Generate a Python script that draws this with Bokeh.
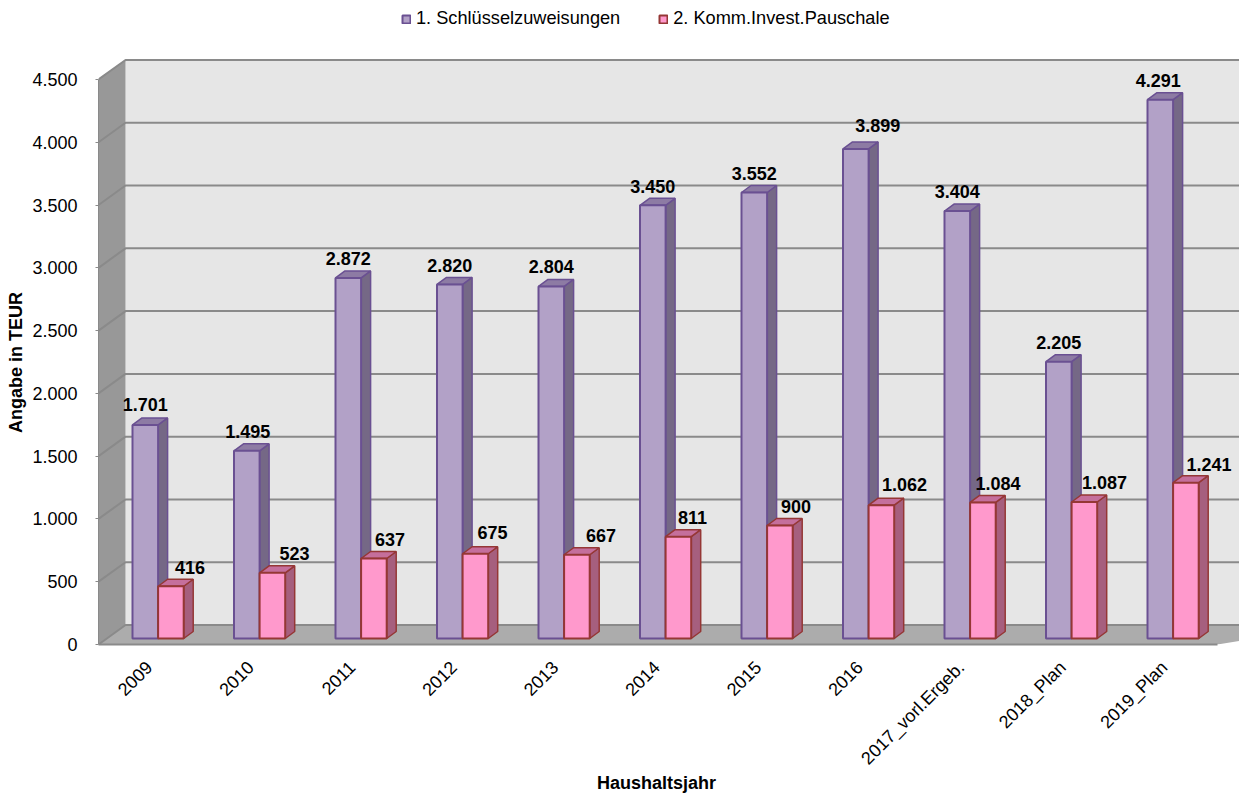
import math
from bokeh.plotting import figure
from bokeh.models import ColumnDataSource, Legend, LegendItem, FixedTicker
from bokeh.core.properties import value
from bokeh.embed import file_html
from bokeh.resources import INLINE

categories = ["2009", "2010", "2011", "2012", "2013", "2014", "2015", "2016",
              "2017_vorl.Ergeb.", "2018_Plan", "2019_Plan"]
schluessel = [1701, 1495, 2872, 2820, 2804, 3450, 3552, 3899, 3404, 2205, 4291]
pauschale = [416, 523, 637, 675, 667, 811, 900, 1062, 1084, 1087, 1241]
y_ticks = [0, 500, 1000, 1500, 2000, 2500, 3000, 3500, 4000, 4500]
y_tick_labels = ["0", "500", "1.000", "1.500", "2.000", "2.500", "3.000", "3.500", "4.000", "4.500"]
series_names = ["1. Schlüsselzuweisungen", "2. Komm.Invest.Pauschale"]
x_title = "Haushaltsjahr"
y_title = "Angabe in TEUR"

# label nudges in px, as the original places them by hand
dx1 = [0, 1, 0, 0, 0, 0, 0, 22, 0, 0, -2]
dx2 = [19, 22, 16, 17, 24, 14, 16, 23, 15, 20, 23]
dy1 = [-20, -19, -19, -19, -20, -19, -19, -23, -20, -19, -19]
dy2 = [-19, -19, -19, -21, -19, -19, -19, -21, -19, -20, -18]

FONT = "Liberation Sans"
W, H = 1239, 796
L, B = 98, 644                 # frame left / bottom inside the page
R = 1239
PX = 101.5                     # px per category
PY = 0.12556                   # px per value unit
CX = 148.8                     # px of the first category's centre
x0 = (L - CX) / PX             # data x of the frame's left edge
x1 = x0 + (R - L) / PX
y_top = B / PY
NBSP = "\u00a0"


def ux(px):
    return px / PX


def uy(px):
    return px / PY


p = figure(width=W, height=H, output_backend="svg", toolbar_location=None,
           x_range=(x0, x1), y_range=(0, y_top),
           min_border_left=L, min_border_right=W - R, min_border_top=0, min_border_bottom=H - B,
           outline_line_color=None, background_fill_color="white", border_fill_color="white")
p.grid.visible = False

# wall depth
wd, wh = ux(27), uy(19.5)
end = x0 + ux(1217 - L)
GRID = "#8a8a8a"
p.patch([x0 + wd, x1 + 1, x1 + 1, x0 + wd], [wh, wh, wh + 4500, wh + 4500],
        fill_color="#e6e6e6", line_color=None)
p.patch([x0, x0 + wd, x0 + wd, x0], [0, wh, wh + 4500, 4500], fill_color="#989898", line_color=None)
p.patch([x0, x0 + wd, x1 + 1, end], [0, wh, wh, 0], fill_color="#acacac", line_color=None)
for t in y_ticks:
    p.line([x0, x0 + wd, x1 + 1], [t, t + wh, t + wh], line_color=GRID, line_width=2)

bd, bh = ux(9.5), uy(7)          # bar depth
by = uy(6)                       # bars' base above the front edge
bw = 25.6 / PX


def bars(vals, shift, fill, line, side, top):
    lefts = [i + shift for i in range(len(vals))]
    rights = [l + bw for l in lefts]
    tops = [v + by for v in vals]
    p.patches([[r, r + bd, r + bd, r] for r in rights],
              [[by, by + bh, t + bh, t] for t in tops],
              fill_color=side, line_color=line, line_width=1.5)
    p.patches([[l, l + bd, r + bd, r] for l, r in zip(lefts, rights)],
              [[t, t + bh, t + bh, t] for t in tops],
              fill_color=top, line_color=line, line_width=1.5)
    src = ColumnDataSource(dict(left=lefts, right=rights, top=tops, bottom=[by] * len(vals)))
    return p.quad(left="left", right="right", top="top", bottom="bottom", source=src,
                  fill_color=fill, line_color=line, line_width=2)


shift1 = (132 - CX) / PX
shift2 = shift1 + bw
r1 = bars(schluessel, shift1, "#b2a1c7", "#6a5092", "#756886", "#8d7ba4")
r2 = bars(pauschale, shift2, "#ff99cc", "#953735", "#a65f7e", "#c56f9c")


def labels(vals, shift, dxs, dys):
    src = ColumnDataSource(dict(
        x=[i + shift + bw / 2 for i in range(len(vals))],
        y=[v + by for v in vals],
        t=[f"{v:,}".replace(",", ".") for v in vals],
        dx=dxs, dy=dys))
    p.text(x="x", y="y", text="t", x_offset="dx", y_offset="dy", source=src,
           text_font=value(FONT), text_font_style="bold", text_font_size="18px",
           text_align="center", text_baseline="middle", text_color="black")


labels(schluessel, shift1, dx1, dy1)
labels(pauschale, shift2, dx2, dy2)

yax = p.yaxis[0]
yax.ticker = FixedTicker(ticks=y_ticks)
yax.major_label_overrides = dict(zip(y_ticks, y_tick_labels))
yax.bounds = (0, 4500)
yax.major_label_text_font = FONT
yax.major_label_text_font_size = "18px"
yax.major_label_text_color = "black"
yax.major_label_standoff = 18
yax.major_tick_out = 3
yax.major_tick_in = 0
yax.major_tick_line_color = GRID
yax.minor_tick_line_color = None
yax.axis_line_color = GRID
# axis titles are centred on the frame; trailing no-break spaces centre them on the axes instead
yax.axis_label = y_title + NBSP * 16
yax.axis_label_text_font = FONT
yax.axis_label_text_font_style = "bold"
yax.axis_label_text_font_size = "18px"
yax.axis_label_text_color = "black"
yax.axis_label_standoff = 3

xax = p.xaxis[0]
ticks = list(range(len(categories)))
xax.ticker = FixedTicker(ticks=ticks)
xax.major_label_overrides = dict(zip(ticks, categories))
xax.bounds = (x0, end)
xax.major_label_orientation = math.pi / 4
xax.major_label_text_font = FONT
xax.major_label_text_font_size = "18px"
xax.major_label_text_color = "black"
xax.major_label_standoff = 14
xax.major_tick_line_color = None
xax.minor_tick_line_color = None
xax.axis_line_color = GRID
xax.axis_line_width = 2
xax.axis_label = x_title + NBSP * 5
xax.axis_label_text_font = FONT
xax.axis_label_text_font_style = "bold"
xax.axis_label_text_font_size = "18px"
xax.axis_label_text_color = "black"
xax.axis_label_standoff = -6

legend = Legend(items=[LegendItem(label=series_names[0], renderers=[r1]),
                       LegendItem(label=series_names[1], renderers=[r2])],
                location=(401 - L, B - 29), orientation="horizontal",
                glyph_width=10, glyph_height=10, label_standoff=5, spacing=38,
                padding=0, margin=0, border_line_color=None, background_fill_color=None,
                background_fill_alpha=0, label_text_font=FONT, label_text_font_size="18.2px",
                label_text_color="black")
p.add_layout(legend, "center")

open("out.html", "w").write(file_html(p, INLINE))
